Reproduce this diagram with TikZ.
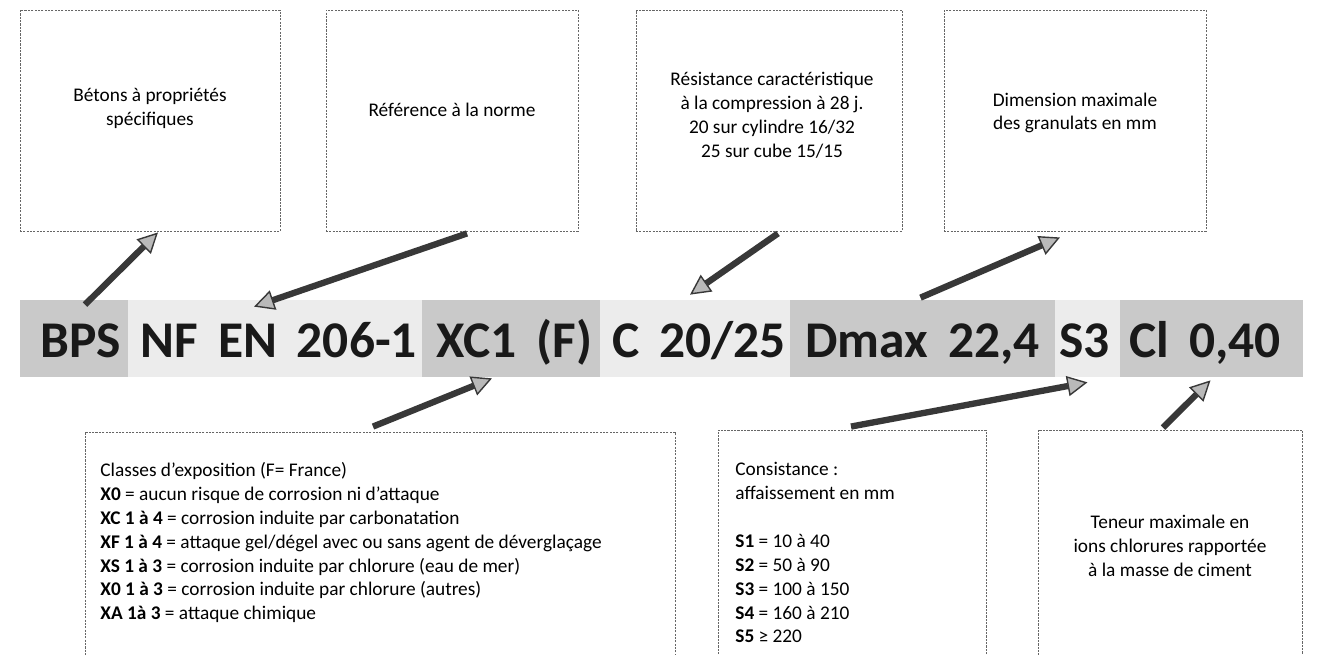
\documentclass[tikz,border=0pt]{standalone}
\usepackage{fontspec}
\setmainfont{Carlito}
\newfontfamily\codefont[WordSpace=1.7]{Carlito}
\usetikzlibrary{arrows.meta,calc,fit}

\tikzset{
  infobox/.style={draw=black!60, line width=0.5pt, dash pattern=on 1.2pt off 0.7pt, inner sep=0pt},
  boxtxt/.style={inner sep=0pt, align=center, font=\fontsize{11pt}{13.6pt}\selectfont},
  segdark/.style={fill=gray!42, draw=none, inner sep=0pt},
  seglight/.style={fill=gray!15, draw=none, inner sep=0pt},
  codetxt/.style={inner sep=0pt, text=black!90, font=\codefont\bfseries\fontsize{29.3pt}{32pt}\selectfont},
  arr/.style={line width=3.6pt, draw=black!78, -{Triangle[length=11.5pt,width=11.5pt,line width=0.8pt,fill=gray!55]}}
}

\begin{document}
\begin{tikzpicture}[x=0.02cm, y=-0.02cm]
  \clip (0,0) rectangle (1325,655);

  % Top row: meaning of each part
  \node[infobox, fit={(20,10) (280,231)}] (beton) {};
  \node[infobox, fit={(326,10) (578,231)}] (norme) {};
  \node[infobox, fit={(636,10) (902,231)}] (resist) {};
  \node[infobox, fit={(944,10) (1206,231)}] (dmaxbox) {};
  \node[boxtxt] (betontxt) at (150,108) {Bétons à propriétés\\spécifiques};
  \node[boxtxt] (normetxt) at (452,110) {Référence à la norme};
  \node[boxtxt] (resisttxt) at (772,115) {Résistance caractéristique\\à la compression à 28 j.\\20 sur cylindre 16/32\\25 sur cube 15/15};
  \node[boxtxt] (dmaxtxt) at (1075,113) {Dimension maximale\\des granulats en mm};

  % Designation band
  \node[segdark, fit={(20,300) (128,377)}] (segbps) {};
  \node[seglight, fit={(128,300) (422,377)}] (segnf) {};
  \node[segdark, fit={(422,300) (600,377)}] (segxc) {};
  \node[seglight, fit={(600,300) (790,377)}] (segc) {};
  \node[segdark, fit={(790,300) (1055,377)}] (segdmax) {};
  \node[seglight, fit={(1055,300) (1120,377)}] (segsthree) {};
  \node[segdark, fit={(1120,300) (1303,377)}] (segcl) {};
  \node[codetxt, anchor=base west] (code) at (40,357) {BPS NF EN 206-1 XC1 (F) C 20/25 Dmax 22,4 S3 Cl 0,40};

  % Bottom row
  \node[infobox, fit={(85,432) (675,680)}] (expo) {};
  \node[infobox, fit={(718,430) (986,680)}] (consist) {};
  \node[infobox, fit={(1038,430) (1302,680)}] (chlor) {};
  \node[boxtxt, anchor=north west, align=left] (expotxt) at (100,462) {Classes d’exposition (F= France)\\
    \textbf{X0} = aucun risque de corrosion ni d’attaque\\
    \textbf{XC 1 à 4} = corrosion induite par carbonatation\\
    \textbf{XF 1 à 4} = attaque gel/dégel avec ou sans agent de déverglaçage\\
    \textbf{XS 1 à 3} = corrosion induite par chlorure (eau de mer)\\
    \textbf{X0 1 à 3} = corrosion induite par chlorure (autres)\\
    \textbf{XA 1à 3} = attaque chimique};
  \node[boxtxt, anchor=north west, align=left] (consisttxt) at (735,462) {Consistance :\\
    affaissement en mm\\[13.6pt]
    \textbf{S1} = 10 à 40\\
    \textbf{S2} = 50 à 90\\
    \textbf{S3} = 100 à 150\\
    \textbf{S4} = 160 à 210\\
    \textbf{S5} ≥ 220};
  \node[boxtxt] (chlortxt) at (1170,546) {Teneur maximale en\\ions chlorures rapportée\\à la masse de ciment};

  % Arrows
  \draw[arr] ($(segbps.north)+(11,5)$) -- ($(beton.south)+(8,1)$);
  \draw[arr] ($(norme.south)+(15,2)$) -- ($(segnf.north)+(-21,7)$);
  \draw[arr] ($(resist.south)+(9,2)$) -- ($(segc.north)+(-5,-5)$);
  \draw[arr] ($(segdmax.north)+(-2,-2)$) -- ($(dmaxbox.south)+(-15,6)$);
  \draw[arr] ($(expo.north)+(-7,-5)$) -- ($(segxc.south)+(-19,1)$);
  \draw[arr] ($(consist.north)+(-1,-3)$) -- ($(segsthree.south)+(0,5)$);
  \draw[arr] ($(chlor.north)+(-7,-2)$) -- ($(segcl.south)+(-1,3)$);
\end{tikzpicture}
\end{document}
